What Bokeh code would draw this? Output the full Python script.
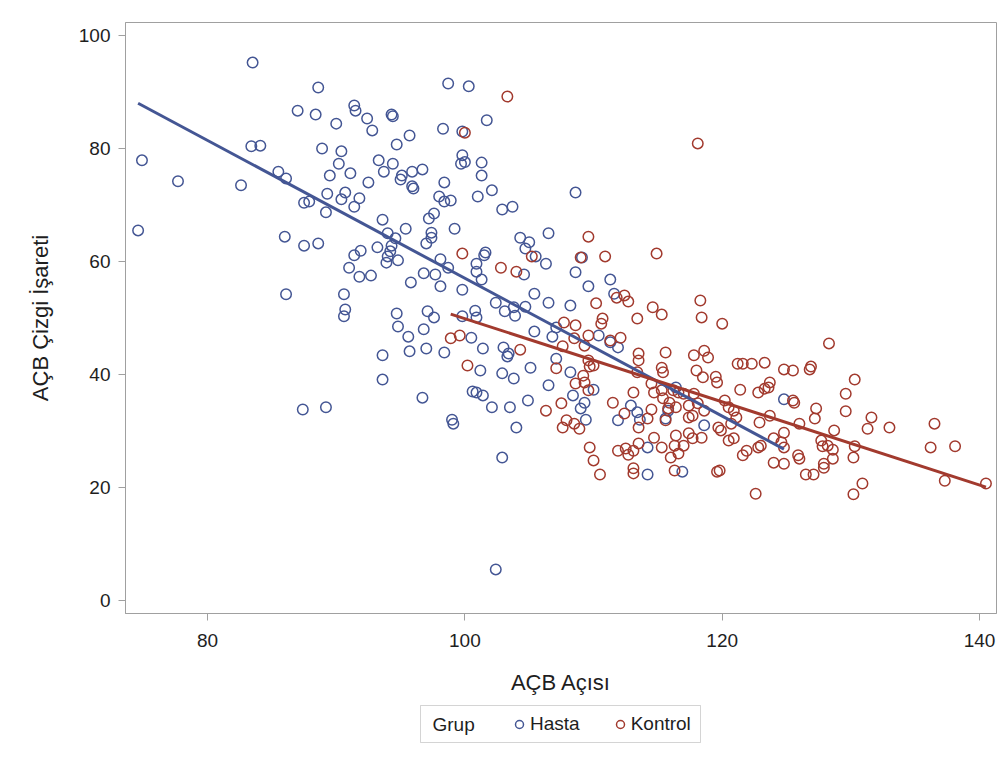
import numpy as np
from bokeh.plotting import figure
from bokeh.layouts import column
from bokeh.models import Legend, LegendItem, Range1d, FixedTicker, Label, BoxAnnotation
from bokeh.embed import file_html
from bokeh.resources import INLINE

# ---- data ----
hasta_x = [74.9, 74.6, 77.7, 82.6, 83.5, 83.4, 84.1, 85.5, 86.1, 87.0, 88.6, 88.4, 90.0, 91.4, 91.5,
           92.4, 92.8, 94.3, 94.4, 95.7, 94.7, 93.3, 94.4, 93.7, 95.1, 95.0, 95.9, 95.9, 96.0, 88.9,
           90.4, 90.2, 89.5, 91.1, 92.5, 89.3, 90.7, 90.4, 91.8, 91.4, 87.5, 87.9, 89.2, 93.6,
           86.0, 87.5, 88.6, 86.1, 90.6, 90.7, 90.6, 87.4, 89.2, 95.4, 94.0, 94.6, 94.3, 94.2, 94.0,
           93.9, 94.8, 93.2, 91.9, 91.4, 91.0, 91.8, 92.7, 95.8, 94.7, 94.8, 95.6, 95.7, 93.6, 93.6,
           98.7, 100.3, 101.7, 98.3, 99.8, 99.8, 99.7, 100.0, 101.3, 101.3, 96.7, 98.4, 98.0, 98.4,
           98.9, 101.0, 102.1, 108.6, 102.9, 103.7, 97.6, 97.2,
           97.4, 97.4, 97.0, 99.2, 104.3, 105.0, 104.7, 106.5, 105.5, 106.3, 101.6, 101.5, 100.9,
           100.9, 101.3, 98.1, 98.7, 96.8, 97.7, 98.1, 99.8, 104.6, 105.4, 102.4, 103.1, 103.9, 103.8,
           104.7, 106.5, 97.1, 97.6, 99.8, 100.8, 100.9, 96.8, 105.4, 106.8, 107.1, 100.5, 101.4,
           97.0, 98.4, 103.0, 103.4, 103.3, 105.1, 107.1, 101.2, 102.9, 103.8, 106.5, 100.6, 100.9,
           101.4, 96.7, 102.1, 103.5, 104.9, 99.0,
           109.1, 108.6, 109.6, 111.3, 111.6, 108.2,
           110.4, 111.3, 111.9, 108.2, 110.0, 108.4, 109.3, 109.0, 109.4, 112.9, 113.4, 113.6, 111.9,
           115.8, 115.6, 116.4, 118.6, 114.2, 114.2, 116.9, 124.8,
           99.1, 104.0, 102.9, 102.4]
hasta_y = [77.9, 65.5, 74.2, 73.5, 95.2, 80.4, 80.5, 75.9, 74.7, 86.7, 90.8, 86.0, 84.4, 87.6, 86.7,
           85.3, 83.2, 86.0, 85.7, 82.3, 80.7, 77.9, 77.3, 75.9, 75.2, 74.5, 75.9, 73.3, 72.9, 80.0,
           79.5, 77.3, 75.2, 75.6, 74.0, 72.0, 72.2, 71.0, 71.2, 69.7, 70.4, 70.6, 68.7, 67.4,
           64.4, 62.8, 63.2, 54.2, 54.2, 51.5, 50.3, 33.8, 34.2, 65.8, 65.0, 64.1, 62.8, 61.8, 60.9,
           59.8, 60.2, 62.5, 61.9, 61.1, 58.9, 57.3, 57.5, 56.3, 50.8, 48.5, 46.7, 44.1, 43.4, 39.1,
           91.5, 91.0, 85.0, 83.5, 83.0, 78.8, 77.3, 77.6, 77.5, 75.2, 76.3, 74.0, 71.5, 70.6,
           70.8, 71.5, 72.6, 72.2, 69.2, 69.7, 68.5, 67.6,
           65.1, 64.2, 63.2, 65.8, 64.2, 63.4, 62.3, 65.0, 60.9, 59.6, 61.6, 61.1, 59.6,
           58.2, 56.8, 60.4, 58.9, 57.9, 57.7, 55.6, 55.0, 57.7, 54.3, 52.7, 51.2, 50.4, 51.9,
           52.0, 52.7, 51.2, 50.1, 50.3, 51.3, 50.1, 48.0, 47.6, 46.7, 48.3, 46.5, 44.6,
           44.6, 43.9, 44.8, 43.7, 43.2, 41.2, 42.8, 40.7, 40.2, 39.3, 38.1, 37.0, 36.8,
           36.3, 35.9, 34.2, 34.2, 35.4, 32.0,
           60.7, 58.1, 55.6, 56.8, 54.3, 52.2,
           46.9, 45.7, 44.8, 40.4, 37.3, 36.3, 35.0, 34.0, 32.0, 34.5, 33.3, 32.0, 31.9,
           33.6, 32.2, 37.7, 31.0, 27.1, 22.3, 22.8, 35.6,
           31.3, 30.6, 25.3, 5.5]

kontrol_x = [103.3, 100.0, 118.1,
             99.8, 105.2, 102.8, 104.0, 98.9, 99.6, 104.3, 100.2, 107.1, 106.3,
             109.6, 109.0, 110.9, 114.9, 111.8, 112.4, 112.7, 110.2, 114.6, 115.3, 113.4, 118.3,
             118.4, 110.7, 110.6, 107.7, 108.6, 120.0,
             107.6, 108.5, 109.3, 109.6, 111.3, 112.1, 109.6, 110.0, 109.7, 109.2, 109.3, 108.6,
             109.6, 107.5, 107.9, 108.5, 108.9, 107.6, 111.5, 112.4, 113.1, 113.5, 113.5, 113.4,
             115.6, 115.3, 115.4, 114.5, 114.7, 115.3, 113.5, 114.2, 114.5, 115.4, 115.9, 115.8,
             116.4, 116.6, 116.2, 117.0, 117.4, 117.8, 117.7, 117.4, 118.1, 118.6, 117.8, 118.6,
             118.9, 118.0, 118.5, 119.5, 119.6, 120.2, 120.5, 120.9, 121.1, 119.7, 119.9, 120.7,
             121.2, 121.6, 122.3, 121.4, 122.8, 121.9, 121.6, 122.8, 120.5, 120.9, 119.8, 117.4,
             118.4, 117.7, 116.4, 117.0, 116.3, 116.6, 116.0, 114.7, 115.3, 113.5, 113.1, 112.5,
             111.9, 112.7, 109.7, 110.0, 110.5, 113.1, 113.1, 116.3, 119.6, 115.6,
             128.3, 123.3, 124.8, 125.5, 126.9, 126.8, 130.3, 129.6, 129.6, 123.7, 123.3, 123.6,
             125.5, 125.6, 127.3, 127.2, 131.6, 131.3, 133.0, 136.5, 136.2, 123.7, 122.9, 126.0,
             124.8, 124.0, 124.6, 124.8, 123.0, 128.7, 127.7, 127.8, 128.2, 128.6, 130.3, 130.2,
             128.6, 127.9, 127.9, 125.9, 126.0, 124.0, 124.8, 126.5, 127.1, 138.1, 122.6, 130.9,
             130.2, 137.3, 140.5]
kontrol_y = [89.2, 82.8, 80.9,
             61.4, 60.9, 58.9, 58.2, 46.4, 46.9, 44.4, 41.6, 41.1, 33.6,
             64.4, 60.7, 60.9, 61.4, 53.6, 54.0, 52.9, 52.6, 51.9, 50.6, 49.9, 53.1,
             50.1, 49.9, 49.0, 49.2, 48.7, 49.0,
             45.0, 46.4, 45.1, 46.9, 46.0, 46.5, 42.5, 41.6, 41.4, 39.8, 38.6, 38.4,
             37.2, 34.9, 31.9, 31.3, 30.4, 30.6, 35.0, 33.1, 36.8, 43.7, 42.5, 40.4,
             43.9, 41.2, 40.4, 38.4, 36.8, 37.2, 30.6, 32.2, 33.8, 35.8, 35.0, 34.0,
             34.2, 36.8, 37.2, 36.6, 34.5, 36.6, 32.7, 32.4, 34.9, 33.6, 43.4, 44.2,
             43.0, 40.7, 39.5, 39.6, 38.6, 35.4, 34.2, 33.6, 32.4, 30.6, 30.1, 31.3,
             41.9, 41.9, 41.9, 37.3, 36.8, 26.5, 25.7, 27.1, 28.3, 28.7, 23.0, 29.6,
             28.8, 28.7, 29.2, 27.4, 27.4, 26.0, 25.3, 28.8, 27.1, 27.8, 26.5, 26.9,
             26.5, 25.8, 27.1, 24.8, 22.3, 23.4, 22.5, 23.0, 22.8, 31.9,
             45.5, 42.1, 40.9, 40.7, 41.4, 40.9, 39.1, 36.6, 33.5, 38.6, 37.5, 37.7,
             35.4, 35.0, 34.0, 32.2, 32.4, 30.4, 30.6, 31.3, 27.1, 32.7, 31.5, 31.3,
             29.7, 28.7, 28.0, 27.1, 27.4, 30.1, 28.3, 27.3, 27.4, 26.7, 27.3, 25.3,
             25.1, 24.2, 23.5, 25.7, 25.1, 24.4, 24.2, 22.3, 22.3, 27.3, 18.9, 20.7,
             18.8, 21.2, 20.7]

x_ticks = [80, 100, 120, 140]
y_ticks = [0, 20, 40, 60, 80, 100]
group_title = "Grup"
group_names = ["Hasta", "Kontrol"]

BLUE = "#445694"
RED = "#A23A2E"
AXIS_GRAY = "#a0a0a0"
TEXT = "#1e1e1e"
FONT = "Liberation Sans"

# ---------------- main plot ----------------
p = figure(width=1000, height=703,
           x_range=Range1d(73.62, 141.32), y_range=Range1d(-2.3, 102.3),
           output_backend="svg", toolbar_location=None,
           min_border_left=125, min_border_top=22, min_border_right=4, min_border_bottom=90,
           background_fill_color="white", border_fill_color="white")
p.grid.visible = False
p.outline_line_color = AXIS_GRAY
p.outline_line_width = 1

for ax in (p.xaxis[0], p.yaxis[0]):
    ax.axis_line_color = AXIS_GRAY
    ax.major_tick_line_color = AXIS_GRAY
    ax.minor_tick_line_color = None
    ax.major_tick_in = 0
    ax.major_tick_out = 7
    ax.major_label_text_font = FONT
    ax.major_label_text_font_size = "19px"
    ax.major_label_text_color = TEXT
    ax.axis_label_text_font = FONT
    ax.axis_label_text_font_size = "22px"
    ax.axis_label_text_font_style = "normal"
    ax.axis_label_text_color = TEXT

p.xaxis.ticker = FixedTicker(ticks=x_ticks)
p.yaxis.ticker = FixedTicker(ticks=y_ticks)
p.xaxis.axis_label = "AÇB Açısı"
p.yaxis.axis_label = "AÇB Çizgi İşareti"
p.xaxis.major_label_standoff = 13
p.xaxis.axis_label_standoff = 20
p.yaxis.major_label_standoff = 8
p.yaxis.axis_label_standoff = 23

marker_kw = dict(size=10.5, fill_color=None, line_width=1.5)
p.scatter(hasta_x, hasta_y, line_color=BLUE, **marker_kw)
p.scatter(kontrol_x, kontrol_y, line_color=RED, **marker_kw)

for xs, ys, col in ((hasta_x, hasta_y, BLUE), (kontrol_x, kontrol_y, RED)):
    slope, icpt = np.polyfit(xs, ys, 1)
    xx = np.array([min(xs), max(xs)])
    p.line(xx, icpt + slope * xx, line_color=col, line_width=3)

# ---------------- legend strip (same frame edges as the plot; pixel ranges) ----------------
lg = figure(width=1000, height=50, x_range=Range1d(125, 996), y_range=Range1d(753, 703),
            output_backend="svg", toolbar_location=None,
            x_axis_location=None, y_axis_location=None,
            min_border_left=125, min_border_right=4, min_border_top=0, min_border_bottom=0,
            background_fill_color="white", border_fill_color="white")
lg.grid.visible = False
lg.outline_line_color = None

# legend proxies (same groups; their points fall outside this strip's ranges)
d1 = lg.scatter(hasta_x, hasta_y, line_color=BLUE, **marker_kw)
d2 = lg.scatter(kontrol_x, kontrol_y, line_color=RED, **marker_kw)

lg.add_layout(BoxAnnotation(left=420, right=700, top=705, bottom=742, fill_alpha=0,
                            line_color="#707070", line_width=1))
lg.add_layout(Label(x=432, y=723.5, text=group_title, text_font=FONT, text_font_size="19px",
                    text_color=TEXT, text_baseline="middle", text_align="left"))

legend = Legend(items=[LegendItem(label=group_names[0], renderers=[d1]),
                       LegendItem(label=group_names[1], renderers=[d2])],
                orientation="horizontal", location=(384, 18))
legend.label_text_font = FONT
legend.label_text_font_size = "19px"
legend.label_text_color = TEXT
legend.label_standoff = 1
legend.glyph_width = 20
legend.glyph_height = 20
legend.spacing = 30
legend.padding = 0
legend.margin = 0
legend.border_line_color = None
legend.background_fill_alpha = 0
lg.add_layout(legend, "center")

layout = column(p, lg, spacing=0)
open("out.html", "w").write(file_html(layout, INLINE))
